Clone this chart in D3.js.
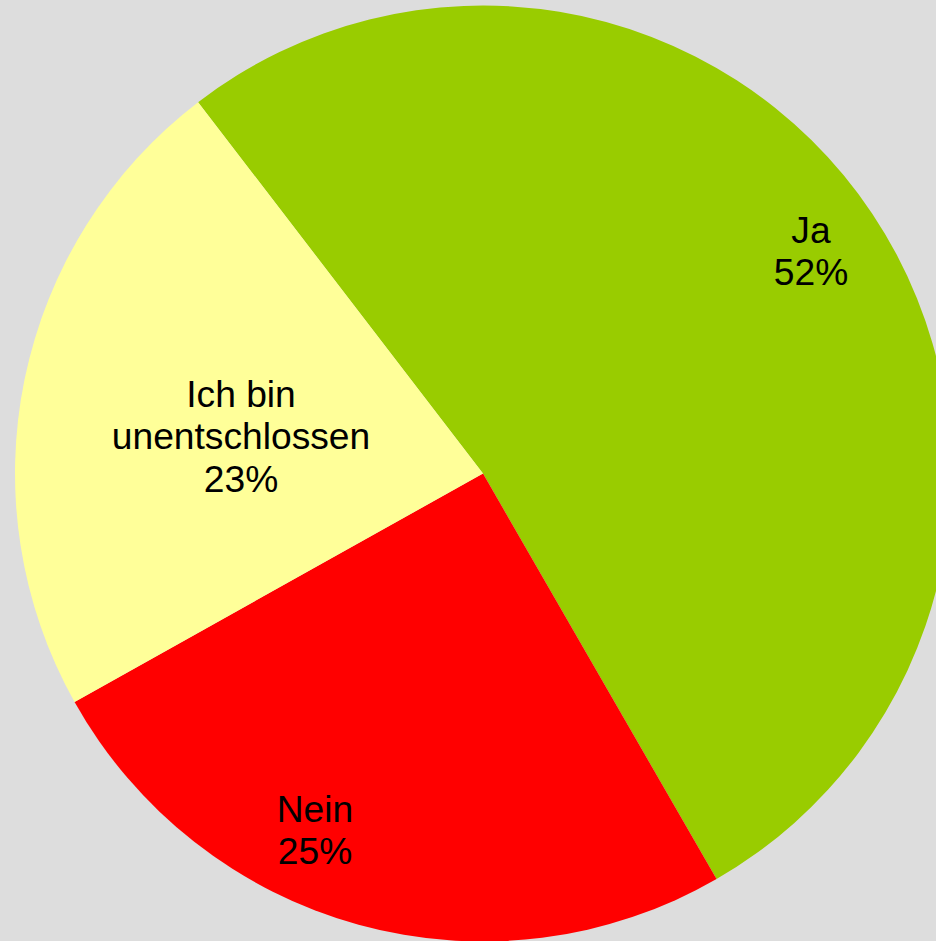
<!DOCTYPE html>
<html>
<head>
<meta charset="utf-8">
<script src="https://cdn.jsdelivr.net/npm/d3@7"></script>
<style>
  html, body { margin: 0; padding: 0; background: #dddddd; }
  svg { display: block; }
</style>
</head>
<body>
<svg id="chart" width="936" height="941"></svg>
<script>
// Data
const categories = ["Ja", "Nein", "Ich bin\nunentschlossen"];
const values = [52.1, 25.2, 22.7];
const colors = ["#99cc00", "#ff0000", "#ffff99"];

// Layout (separate from data)
const W = 936, H = 941;
const cx = 483, cy = 473.5, R = 468;
const startDeg = -37.5;
const fontSize = 37.2;
const lineGap = 42.5;
// first-line baseline of each label, relative to the pie centre
const labelOffsets = [[328, -230.8], [-168, 348.2], [-242, -66.8]];

const svg = d3.select("#chart");
svg.append("rect").attr("width", W).attr("height", H).attr("fill", "#dddddd");

const total = d3.sum(values);
const pie = d3.pie().sort(null).value(d => d)
  .startAngle(startDeg * Math.PI / 180)
  .endAngle((startDeg + 360) * Math.PI / 180);
const arc = d3.arc().innerRadius(0).outerRadius(R);

const g = svg.append("g").attr("transform", `translate(${cx},${cy})`);
const arcs = pie(values);

g.selectAll("path.slice").data(arcs).join("path")
  .attr("class", "slice")
  .attr("d", arc)
  .attr("fill", (d, i) => colors[i]);

const fmt = d3.format(".0%");
const labels = g.selectAll("text.lbl").data(arcs).join("text")
  .attr("class", "lbl")
  .attr("text-anchor", "middle")
  .attr("font-family", "'Liberation Sans', Arial, sans-serif")
  .attr("font-size", fontSize)
  .attr("fill", "#000");

labels.each(function(d, i) {
  const lines = categories[i].split("\n").concat([fmt(values[i] / total)]);
  const [ox, oy] = labelOffsets[i];
  d3.select(this).selectAll("tspan").data(lines).join("tspan")
    .attr("x", ox)
    .attr("y", (l, j) => oy + j * lineGap)
    .text(l => l);
});
</script>
</body>
</html>
